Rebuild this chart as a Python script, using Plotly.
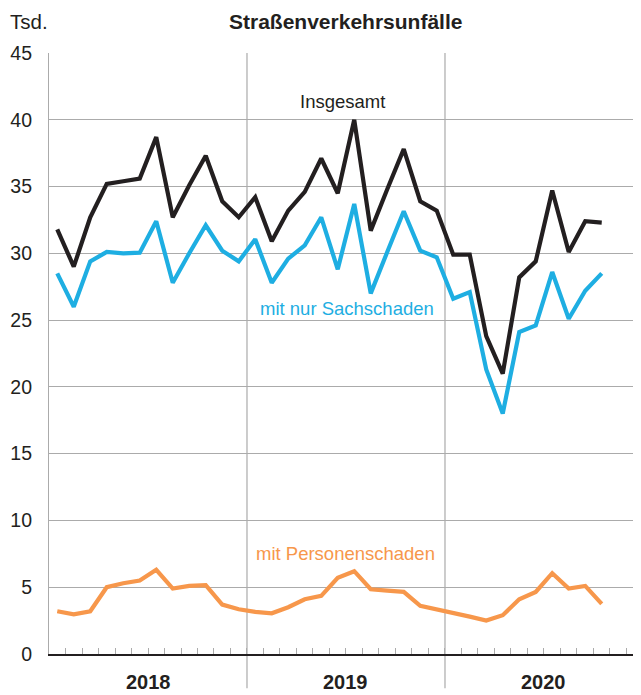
import plotly.graph_objects as go

months = list(range(34))  # Jan 2018 .. Oct 2020
years = ["2018", "2019", "2020"]
y_ticks = [0, 5, 10, 15, 20, 25, 30, 35, 40, 45]

insgesamt = [31.8, 29.0, 32.7, 35.2, 35.4, 35.6, 38.7, 32.7, 35.1, 37.3, 33.9, 32.7,
             34.2, 30.9, 33.2, 34.6, 37.1, 34.5, 40.0, 31.7, 34.8, 37.8, 33.9, 33.2,
             29.9, 29.9, 23.8, 21.0, 28.2, 29.4, 34.7, 30.1, 32.4, 32.3]
sachschaden = [28.5, 26.0, 29.4, 30.1, 30.0, 30.05, 32.4, 27.8, 30.0, 32.1, 30.2, 29.4,
               31.05, 27.8, 29.6, 30.6, 32.7, 28.8, 33.7, 27.0, 30.1, 33.15, 30.2, 29.7,
               26.6, 27.1, 21.3, 18.0, 24.1, 24.6, 28.6, 25.1, 27.2, 28.5]
personenschaden = [3.2, 2.97, 3.2, 5.0, 5.3, 5.5, 6.3, 4.9, 5.1, 5.15, 3.7, 3.35,
                   3.15, 3.05, 3.5, 4.1, 4.35, 5.7, 6.2, 4.85, 4.75, 4.65, 3.6, 3.35,
                   3.1, 2.8, 2.5, 2.9, 4.1, 4.65, 6.05, 4.9, 5.1, 3.75]

BLACK = "#231f20"
BLUE = "#1eaee2"
ORANGE = "#f7974b"
GRID = "#ababab"
FONT = "Liberation Sans, Arial, sans-serif"

x = [m + 0.5 for m in months]

fig = go.Figure()
for vals, col in [(personenschaden, ORANGE), (sachschaden, BLUE), (insgesamt, BLACK)]:
    fig.add_trace(go.Scatter(x=x, y=vals, mode="lines",
                             line=dict(color=col, width=4.2), hoverinfo="skip"))

# year separators extending below axis
for b in [12, 24]:
    fig.add_shape(type="line", xref="x", yref="paper", x0=b, x1=b, y0=-0.057, y1=1,
                  line=dict(color=GRID, width=1.2), layer="below")

annotations = [
    dict(text="<b>Straßenverkehrsunfälle</b>", xref="paper", yref="paper", x=0.5, y=1.0749,
         xanchor="center", yanchor="top", showarrow=False, font=dict(size=21, color=BLACK)),
    dict(text="Tsd.", xref="paper", yref="paper", x=-0.0685, y=1.0749,
         xanchor="left", yanchor="top", showarrow=False, font=dict(size=20.5, color=BLACK)),
    dict(text="Insgesamt", xref="x", yref="y", x=17.8, y=41.4, showarrow=False,
         xanchor="center", yanchor="middle", font=dict(size=18.5, color=BLACK)),
    dict(text="mit nur Sachschaden", xref="x", yref="y", x=18.05, y=25.9, showarrow=False,
         xanchor="center", yanchor="middle", font=dict(size=18.5, color=BLUE)),
    dict(text="mit Personenschaden", xref="x", yref="y", x=17.95, y=7.5, showarrow=False,
         xanchor="center", yanchor="middle", font=dict(size=18.5, color=ORANGE)),
]
for i, yr in enumerate(years):
    annotations.append(dict(text="<b>" + yr + "</b>", xref="x", yref="paper", x=6 + 12 * i,
                            y=-0.047, xanchor="center", yanchor="middle", showarrow=False,
                            font=dict(size=20, color=BLACK)))

# page body has an 8px margin, so the figure is sized to the remaining area
fig.update_layout(
    width=633, height=687,
    margin=dict(l=41, r=0, t=45, b=41),
    paper_bgcolor="white", plot_bgcolor="white",
    showlegend=False,
    font=dict(family=FONT, color=BLACK),
    annotations=annotations,
    xaxis=dict(range=[0, 35.88], tickvals=list(range(1, 36)), ticks="inside", ticklen=6,
               tickcolor=GRID, tickwidth=1, showticklabels=False, showgrid=False,
               zeroline=False, showline=True, linecolor=BLACK, linewidth=2),
    yaxis=dict(range=[0, 45], tickvals=y_ticks, ticktext=[str(v) for v in y_ticks],
               showgrid=True, gridcolor=GRID, gridwidth=1.2, zeroline=False,
               showline=True, linecolor=GRID, linewidth=1.2, ticks="",
               ticklabelstandoff=12, tickfont=dict(size=19.5, color=BLACK)),
)

fig.write_html("out.html")
